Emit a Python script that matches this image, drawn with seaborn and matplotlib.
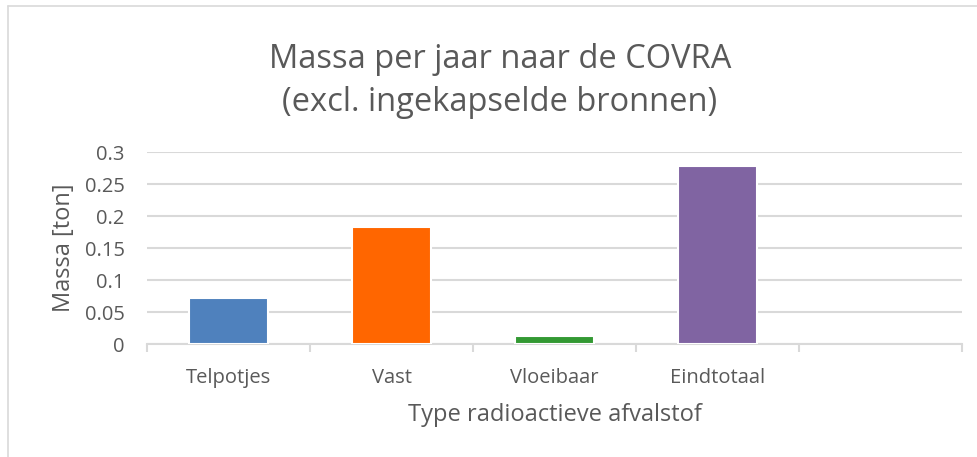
import matplotlib
matplotlib.use("Agg")
import matplotlib.pyplot as plt
import seaborn as sns
import pandas as pd
import numpy as np
from matplotlib.lines import Line2D

categories = ["Telpotjes", "Vast", "Vloeibaar", "Eindtotaal"]
values = [0.072, 0.183, 0.013, 0.278]
colors = ["#4F81BD", "#FF6600", "#339933", "#8064A2"]
yticks = [0, 0.05, 0.1, 0.15, 0.2, 0.25, 0.3]
ytick_labels = ["0", "0.05", "0.1", "0.15", "0.2", "0.25", "0.3"]
title = "Massa per jaar naar de COVRA\n(excl. ingekapselde bronnen)"
xlabel = "Type radioactieve afvalstof"
ylabel = "Massa [ton]"

sns.set_theme(style="white")
plt.rcParams["font.family"] = ["Open Sans", "DejaVu Sans"]
txt = "#595959"
grid = "#D9D9D9"

df = pd.DataFrame({"cat": categories, "val": values})

fig = plt.figure(figsize=(9.78, 4.57), dpi=100)
ax = fig.add_axes([147 / 978, 1 - 344 / 457, (962 - 147) / 978, (344 - 152) / 457])

sns.barplot(data=df, x="cat", y="val", hue="cat", palette=colors, legend=False,
            saturation=1, width=0.48, edgecolor="white", linewidth=1.5, ax=ax, zorder=3)

ax.set_xlim(-0.5, 4.5)
ax.set_ylim(0, 0.3)
ax.set_yticks(yticks)
ax.set_yticklabels(ytick_labels, fontsize=14.5, color=txt)
ax.yaxis.grid(True, color=grid, linewidth=1.5, zorder=0)
ax.set_axisbelow(True)
ax.tick_params(axis="y", length=0, pad=16)

ax.set_xticks(range(len(categories)))
ax.set_xticklabels(categories, fontsize=14.5, color=txt)
ax.set_xticks(np.arange(-0.5, 4.6, 1.0), minor=True)
ax.tick_params(axis="x", which="major", length=0, pad=17)
ax.tick_params(axis="x", which="minor", length=6, width=1.5, color=grid, direction="out", bottom=True)

for s in ["top", "right", "left"]:
    ax.spines[s].set_visible(False)
ax.spines["bottom"].set_color(grid)
ax.spines["bottom"].set_linewidth(1.5)

ax.set_xlabel(xlabel, fontsize=17, color=txt, labelpad=11)
ax.set_ylabel(ylabel, fontsize=17, color=txt, labelpad=6)

fig.text(500 / 978, 1 - 81 / 457, title, ha="center", va="center", fontsize=23.5,
         color=txt, linespacing=1.4)

# chart frame (left and top edges)
fig.add_artist(Line2D([8 / 978, 8 / 978], [0, 1 - 6 / 457], transform=fig.transFigure,
                      color=grid, linewidth=1.2))
fig.add_artist(Line2D([8 / 978, 1], [1 - 6 / 457, 1 - 6 / 457], transform=fig.transFigure,
                      color=grid, linewidth=1.2))

fig.savefig("out.png", dpi=100, facecolor="white")
